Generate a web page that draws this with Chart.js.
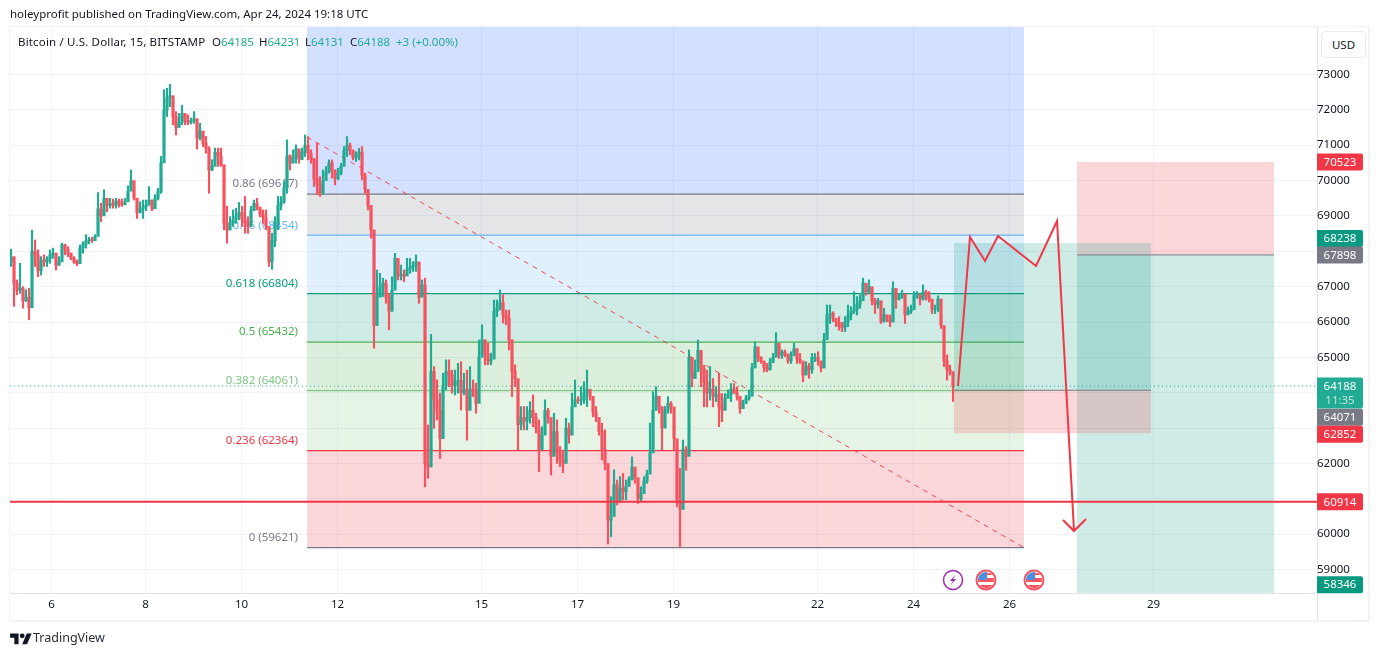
<!DOCTYPE html>
<html>
<head>
<meta charset="utf-8">
<title>Bitcoin / U.S. Dollar</title>
<script src="https://cdn.jsdelivr.net/npm/chart.js@4"></script>
<style>
    html, body { margin: 0; padding: 0; background: #fff; }
    body { width: 1379px; height: 656px; position: relative; overflow: hidden; font-family: "Noto Sans", sans-serif; color: #131722; }
    canvas { position: absolute; left: 0; top: 0; }
    .txt { position: absolute; white-space: nowrap; font-size: 11.5px; line-height: 16px; z-index: 2; }
    .up { color: #22ab94; }
    #frame { position: absolute; left: 9px; top: 26px; width: 1358px; height: 593px; border: 1px solid #f0f3fa; border-bottom-width: 2px; border-right-width: 2px; }
    #axisCorner { position: absolute; left: 1317px; top: 593px; width: 1px; height: 27px; background: #e0e3eb; z-index: 2; }
    #usd { position: absolute; left: 1321px; top: 31px; width: 43px; height: 25px; border: 1px solid #e8eaf1; border-radius: 4px; background: #fff; text-align: center; line-height: 25px; font-size: 11.5px; z-index: 2; }
    #logo { position: absolute; left: 10px; top: 631px; z-index: 2; }
    #brand { left: 33px; top: 630px; font-size: 12.5px; color: #2a2e39; }
</style>
</head>
<body>
<div id="frame"></div>
<canvas id="chart" width="1379" height="656"></canvas>
<div class="txt" style="left:10px;top:6px">holeyprofit published on TradingView.com, Apr 24, 2024 19:18 UTC</div>
<div class="txt" style="left:18px;top:34px;letter-spacing:0.17px">Bitcoin / U.S. Dollar, 15, BITSTAMP</div>
<div class="txt" style="left:212px;top:34px">O<span class="up">64185</span></div>
<div class="txt" style="left:259px;top:34px">H<span class="up">64231</span></div>
<div class="txt" style="left:305px;top:34px">L<span class="up">64131</span></div>
<div class="txt" style="left:350px;top:34px">C<span class="up">64188</span></div>
<div class="txt up" style="left:396px;top:34px">+3 (+0.00%)</div>
<div id="usd">USD</div>
<div id="axisCorner"></div>
<svg id="logo" width="22" height="17" viewBox="0 0 36 28"><path fill="#131722" d="M14 22H7V11H0V4h14v18zM28 22h-8l7.5-18h8L28 22z"/><circle fill="#131722" cx="20" cy="8" r="4"/></svg>
<div class="txt" id="brand">TradingView</div>
<script>
// --- CANDLES: one bar per 1.5h ---
const firstBarDay = 5.198;
const barStepDays = 0.0625;
const firstOpen = 67700;

const highs = [
    68060,67760,67190,67660,67000,66910,66950,68600,68320,68040,
    67850,67900,67850,68040,68090,67850,67850,68230,68200,68130,
    67950,67850,67760,68180,68270,68470,68400,68400,68470,69660,
    69360,69740,69500,69500,69480,69500,69480,69480,69500,69850,
    70300,69830,69500,69400,69450,69450,69830,69450,69600,69780,
    70680,72570,72610,72720,72280,71950,71900,72130,71860,71860,
    71770,71950,71620,71620,71310,71250,70960,70590,70920,70920,
    70920,70400,69270,68980,69170,69220,69380,69270,69550,68980,
    69270,69450,69500,69220,69170,69170,68610,68510,68980,69550,
    69550,69970,71150,70730,70870,71010,70730,70920,71290,
    71245,70870,70630,71060,70110,70300,70400,70585,70585,70300,
    70350,70490,70960,71245,71060,70870,70820,70910,70960,70210,
    69640,69170,68600,67470,67380,67240,67190,66810,67280,67940,
    67760,67610,67470,67800,67800,67710,67900,67570,67190,67240,
    63090,65650,64740,64360,63990,64550,64930,64930,64640,64640,
    64830,64880,64550,64640,64740,64360,64270,65490,65920,65400,
    65400,65120,66620,66620,66910,66770,66340,66340,65020,64790,
    64170,63610,63610,63610,63750,63940,63420,63230,63040,63800,
    63560,63230,63420,63230,62480,62380,63280,63140,63990,64360,
    63890,64170,64310,64640,64080,63650,63610,63180,63140,62950,
    61960,61060,61820,61530,61630,61720,61530,61630,62190,61810,
    61340,61340,61630,61810,63140,64030,64170,63890,63610,63610,
    63890,63750,63230,62380,61860,62660,62480,65210,64830,64930,
    65490,
    65070,64780,64640,64740,64400,64170,64550,63980,63980,64080,
    64260,64260,64170,63790,63790,63930,64080,64830,65440,65160,
    65020,64880,64830,64970,65110,65700,65300,65210,65210,65020,
    65160,65400,65110,65110,64830,64880,64830,65110,65110,65160,
    64880,65680,66480,66480,66290,66100,66150,65990,66150,66480,
    66430,66860,66720,66760,67240,67000,67190,66900,66670,66670,
    66340,66390,66200,66200,67140,66810,66810,66900,66620,66430,
    66480,66860,66860,66720,67050,66900,66860,66620,66480,66740,
    66290,65870,65070,64780,64260
];

const lows = [
    67570,66440,66770,66810,66390,66580,66060,66810,67570,67280,
    67330,67570,67570,67660,67800,67470,67620,67950,67900,67850,
    67760,67660,67590,67850,67950,68090,68210,68250,68300,68510,
    68840,69220,69120,69220,69220,69220,69250,69270,69310,69450,
    69740,69450,68930,69080,68930,69150,69360,69150,69310,69450,
    69640,71150,71810,72090,71580,71290,71530,71580,71580,71580,
    71600,71620,70890,71150,70960,70770,69640,70280,70490,70400,
    70400,68610,68230,68700,68700,68790,68890,68700,68510,68510,
    68980,69170,69170,68980,68790,68610,67570,67490,68130,68610,
    69170,69360,69640,70300,70490,70490,70490,70590,70680,
    70585,70490,69830,69600,69550,69600,70070,70210,70070,69880,
    70020,70160,70490,70680,70730,70585,70540,70585,70020,69640,
    69170,68370,65260,66060,66720,66720,66530,65780,66480,67190,
    67190,67190,67140,67380,67380,67430,67430,66530,66720,61340,
    61580,62140,62990,63230,62140,63420,64080,64170,63990,63940,
    63990,63510,63940,62660,63650,63890,63420,64740,65020,64790,
    64790,64790,65400,66150,66340,65970,65920,65210,63890,64170,
    62380,62950,62950,62950,63140,63040,62860,61770,62380,63040,
    63140,61670,62380,62000,61910,61740,62380,62570,63230,63650,
    63700,63650,63700,63610,63790,63320,63180,62800,62100,61820,
    59720,59930,60780,60830,61060,60970,60970,61440,61530,61440,
    60870,60920,61340,61440,62000,62380,63610,63420,62380,63320,
    63420,63420,62380,60780,59630,61910,61810,63610,64170,64450,
    64930,
    64170,63600,63600,63790,63600,63750,63040,63180,63600,63840,
    63750,63980,63790,63420,63560,63700,63790,63930,64740,64880,
    64830,64590,64590,64640,64880,65020,64970,64970,65020,64830,
    64830,65070,64830,64830,64310,64550,64410,64550,64880,64780,
    64590,64780,65580,65960,66010,65870,65770,65730,65730,65870,
    66060,66240,66200,66390,66720,66760,66810,66480,66240,66390,
    65960,66060,66010,65870,66060,66390,66620,66670,65960,66240,
    66240,66480,66670,66480,66620,66620,66570,66240,66240,66290,
    65820,64740,64360,64500,63750
];

const closes = [
    67850,67100,66900,66950,66600,66700,66400,68000,67900,67450,
    67750,67700,67800,67900,67950,67600,67700,68180,68050,67950,
    67800,67700,67650,68100,68200,68300,68330,68300,68420,69200,
    69000,69500,69300,69350,69300,69420,69350,69320,69400,69700,
    70000,69500,69100,69200,69250,69300,69450,69200,69500,69700,
    70500,72000,72350,72400,71800,71500,71650,71900,71700,71650,
    71700,71750,71200,71400,71050,70900,70300,70400,70800,70700,
    70450,68800,68600,68800,68900,69000,69100,68900,68800,68700,
    69150,69350,69250,69050,68950,68700,67700,68300,68800,69300,
    69400,69800,70700,70500,70650,70900,70600,70800,71000,
    70775,70600,70050,69900,69650,70000,70250,70500,70300,70050,
    70200,70400,70850,71000,70850,70650,70700,70800,70150,69750,
    69300,68600,65900,66700,67000,67100,66700,66300,66900,67800,
    67300,67350,67300,67500,67550,67600,67700,66700,67050,62000,
    61900,64600,63800,63500,62700,64200,64600,64500,64200,64300,
    64350,64000,64100,63500,64100,64050,63700,65000,65500,65100,
    64900,64950,66300,66400,66550,66200,66100,65500,64600,64400,
    63100,63300,63200,63300,63500,63300,63000,62400,62800,63500,
    63300,62200,62900,62300,62100,62000,63000,62800,63600,63800,
    63780,63800,64000,64100,63900,63450,63300,62900,62400,62000,
    60400,60500,61400,60900,61300,61200,61350,61550,61900,61600,
    61000,61150,61500,61700,62300,63500,63900,63600,63000,63500,
    63700,63600,62700,60900,60700,62400,62200,65000,64400,64600,
    65200,
    64700,64300,64000,64100,63900,63950,63600,63500,63850,63950,
    64100,64000,63900,63550,63700,63850,63900,64700,65300,65000,
    64900,64700,64650,64850,65000,65400,65050,65150,65100,64900,
    65050,65250,64950,64900,64500,64750,64650,65000,65000,64900,
    64700,65500,66200,66250,66100,66000,65900,65850,66000,66200,
    66300,66350,66500,66600,67100,66850,67000,66600,66500,66600,
    66000,66200,66100,66000,66950,66650,66700,66800,66200,66300,
    66350,66750,66780,66650,66850,66750,66650,66350,66350,66650,
    65900,64900,64650,64600,64188
];

// --- AXES ---
const priceMin = 58337;
const priceMax = 74343;
const dayMin = 5.177;
const dayMax = 32.406;
const priceTicks = [59000,60000,61000,62000,63000,64000,65000,66000,67000,68000,69000,70000,71000,72000,73000];
const hiddenPriceLabels = [61000,63000,64000,68000];
const dayTicks = [6.04,8,10,12,15,17,19,22,24,26,29];
const dayLabels = ["6","8","10","12","15","17","19","22","24","26","29"];

// --- FIB RETRACEMENT ---
const fibStartDay = 11.365;
const fibEndDay = 26.302;
const fibRatios = ["0.86","0.76","0.618","0.5","0.382","0.236","0"];
const fibPrices = [69617,68454,66804,65432,64061,62364,59621];
const fibColors = ["#787b86","#64b5f6","#089981","#4caf50","#81c784","#f23645","#787b86"];
const fibFills = ["rgba(41,98,255,0.2)","rgba(120,123,134,0.2)","rgba(100,181,246,0.2)","rgba(8,153,129,0.2)","rgba(76,175,80,0.2)","rgba(129,199,132,0.2)","rgba(242,54,69,0.2)"];

// --- DRAWINGS ---
const trendDays = [11.365,26.302];
const trendPrices = [71232,59621];
const supportPrice = 60914;
const lastPrice = 64188;
const pathDays = [24.927,25.177,25.49,25.76,26.552,26.99,27.344];
const pathPrices = [64191,68404,67726,68433,67584,68857,60090];
const arrowDays = [27.115,27.344,27.594];
const arrowPrices = [60401,60090,60429];

// long and short position boxes
const longDays = [24.844,28.948];
const longLevels = [68238,64071,62852];
const shortDays = [27.406,31.51];
const shortLevels = [70523,67898,58346];

// --- AXIS BADGES AND EVENT ICONS ---
const badgePrices = [70523,68238,67898,64188,64071,62852,60914,58346];
const badgeColors = ["#f23645","#089981","#787b86","#22ab94","#787b86","#f23645","#f23645","#089981"];
const badgeShifts = [0,-4.5,0,0,27,1,0,-8];
const countdownText = "11:35";
const powellDay = 24.823;
const flagDays = [25.51,26.51];

const UP = "#22ab94";
const DOWN = "#f7525f";
const FONT = '11.5px "Noto Sans", sans-serif';

const opens = closes.map((c, i) => i === 0 ? firstOpen : closes[i - 1]);
const barDays = closes.map((c, i) => firstBarDay + i * barStepDays);
const barColors = closes.map((c, i) => c >= opens[i] ? UP : DOWN);

// helpers for the flat drawing datasets
function hLine(days, price, color, width, order, dash) {
    return {
        type: 'line', order: order,
        data: days.map(d => ({ x: d, y: price })),
        borderColor: color, borderWidth: width, borderDash: dash || [],
        pointRadius: 0, tension: 0, fill: false
    };
}
function band(days, top, bottom, color, order) {
    return {
        type: 'line', order: order,
        data: days.map(d => ({ x: d, y: top })),
        borderColor: 'rgba(0,0,0,0)', borderWidth: 0, pointRadius: 0, tension: 0,
        fill: { target: { value: bottom }, above: color, below: color }
    };
}
function path(days, prices, color, width, order, dash) {
    return {
        type: 'line', order: order,
        data: days.map((d, i) => ({ x: d, y: prices[i] })),
        borderColor: color, borderWidth: width, borderDash: dash || [],
        pointRadius: 0, tension: 0, fill: false, borderJoinStyle: 'miter'
    };
}

const fibDays = [fibStartDay, fibEndDay];
const datasets = [];

// Fib zones and levels sit under the candles
datasets.push(band(fibDays, priceMax, fibPrices[0], fibFills[0], 50));
fibPrices.forEach((p, i) => {
    if (i > 0) datasets.push(band(fibDays, fibPrices[i - 1], p, fibFills[i], 50));
    datasets.push(hLine(fibDays, p, fibColors[i], 1.25, 40));
});

// Position boxes
datasets.push(band(longDays, longLevels[0], longLevels[1], "rgba(8,153,129,0.2)", 35));
datasets.push(band(longDays, longLevels[1], longLevels[2], "rgba(242,54,69,0.2)", 35));
datasets.push(hLine(longDays, longLevels[1], "#787b86", 1, 34));
datasets.push(band(shortDays, shortLevels[0], shortLevels[1], "rgba(242,54,69,0.2)", 35));
datasets.push(band(shortDays, shortLevels[1], shortLevels[2], "rgba(8,153,129,0.2)", 35));
datasets.push(hLine(shortDays, shortLevels[1], "#787b86", 1, 34));

datasets.push(path(trendDays, trendPrices, "rgba(242,54,69,0.9)", 1, 30, [5, 5]));

// Candles: wick then body
datasets.push({
    type: 'bar', order: 20, grouped: false, barThickness: 1.5,
    data: barDays.map((d, i) => ({ x: d, y: [lows[i], highs[i]] })),
    backgroundColor: barColors
});
datasets.push({
    type: 'bar', order: 19, grouped: false, barThickness: 2.5,
    data: barDays.map((d, i) => ({ x: d, y: [opens[i], closes[i]] })),
    backgroundColor: barColors
});

// On top of the candles
datasets.push(hLine([dayMin, dayMax], supportPrice, "#f23645", 2, 5));
datasets.push(hLine([dayMin, dayMax], lastPrice, "#22ab94", 1, 4, [1, 3]));
datasets.push(path(pathDays, pathPrices, "#f23645", 2, 3));
datasets.push(path(arrowDays, arrowPrices, "#f23645", 2, 3));

// Fib labels go under the candles, the rest goes on top
const overlayPlugin = {
    id: 'overlay',
    beforeDatasetsDraw(chart) {
        const { ctx, scales } = chart;
        const right = scales.x.getPixelForValue(fibStartDay) - 9;
        ctx.save();
        ctx.font = FONT;
        ctx.textAlign = 'right';
        ctx.textBaseline = 'middle';
        fibPrices.forEach((p, i) => {
            ctx.fillStyle = fibColors[i];
            ctx.fillText(`${fibRatios[i]} (${p})`, right, scales.y.getPixelForValue(p) - 10);
        });
        ctx.restore();
    },
    afterDatasetsDraw(chart) {
        const { ctx, scales, chartArea } = chart;
        const cy = chartArea.bottom - 13;
        ctx.save();

        // earnings style bolt icon
        const bx = scales.x.getPixelForValue(powellDay);
        ctx.beginPath();
        ctx.arc(bx, cy, 9.5, 0, Math.PI * 2);
        ctx.fillStyle = '#fff';
        ctx.fill();
        ctx.lineWidth = 1.5;
        ctx.strokeStyle = '#9c27b0';
        ctx.stroke();
        ctx.beginPath();
        ctx.moveTo(bx + 3, cy - 6); ctx.lineTo(bx - 3, cy + 1); ctx.lineTo(bx, cy + 1);
        ctx.lineTo(bx - 3, cy + 6); ctx.lineTo(bx + 3, cy - 1); ctx.lineTo(bx, cy - 1);
        ctx.closePath();
        ctx.fillStyle = '#9c27b0';
        ctx.fill();

        // US flag icons
        flagDays.forEach(d => {
            const fx = scales.x.getPixelForValue(d);
            ctx.save();
            ctx.beginPath();
            ctx.arc(fx, cy, 10, 0, Math.PI * 2);
            ctx.fillStyle = '#fff';
            ctx.fill();
            ctx.beginPath();
            ctx.arc(fx, cy, 8, 0, Math.PI * 2);
            ctx.clip();
            ctx.fillStyle = '#fff';
            ctx.fillRect(fx - 8, cy - 8, 16, 16);
            ctx.fillStyle = '#f7525f';
            ctx.fillRect(fx - 8, cy - 2, 16, 4);
            ctx.fillRect(fx - 8, cy + 5, 16, 4);
            ctx.fillRect(fx, cy - 7, 8, 2);
            ctx.fillStyle = '#4a90e2';
            ctx.fillRect(fx - 8, cy - 8, 9, 8);
            ctx.restore();
            ctx.beginPath();
            ctx.arc(fx, cy, 9.5, 0, Math.PI * 2);
            ctx.lineWidth = 2;
            ctx.strokeStyle = '#f7525f';
            ctx.stroke();
        });
        ctx.restore();
    },
    afterDraw(chart) {
        const { ctx, scales, chartArea } = chart;
        const x0 = chartArea.right;
        const w = 46;
        ctx.save();
        ctx.font = FONT;
        ctx.textAlign = 'center';
        ctx.textBaseline = 'middle';
        badgePrices.forEach((p, i) => {
            const cy = scales.y.getPixelForValue(p) + badgeShifts[i];
            const isLast = p === lastPrice;
            const top = cy - 8.5;
            const h = isLast ? 31 : 17;
            ctx.fillStyle = badgeColors[i];
            ctx.beginPath();
            ctx.roundRect(x0, top, w, h, [0, 2, 2, 0]);
            ctx.fill();
            ctx.fillStyle = '#fff';
            ctx.fillText(String(p), x0 + w / 2, cy + 0.5);
            if (isLast) {
                ctx.fillStyle = 'rgba(255,255,255,0.7)';
                ctx.fillText(countdownText, x0 + w / 2, cy + 15);
            }
        });
        ctx.restore();
    }
};

new Chart(document.getElementById('chart').getContext('2d'), {
    data: { datasets: datasets },
    plugins: [overlayPlugin],
    options: {
        responsive: false,
        animation: false,
        events: [],
        layout: { padding: { left: 10, top: 27, right: 12, bottom: 36 } },
        plugins: { legend: { display: false }, tooltip: { enabled: false } },
        scales: {
            x: {
                type: 'linear', min: dayMin, max: dayMax, offset: false,
                grid: { color: '#f0f3fa', drawTicks: false, offset: false },
                border: { color: '#e0e3eb' },
                afterBuildTicks(scale) { scale.ticks = dayTicks.map(v => ({ value: v })); },
                afterFit(scale) { scale.height = 27; },
                ticks: {
                    autoSkip: false, maxRotation: 0, padding: 5, color: '#131722',
                    font: { family: '"Noto Sans", sans-serif', size: 11.5 },
                    callback: value => dayLabels[dayTicks.indexOf(value)]
                }
            },
            y: {
                type: 'linear', position: 'right', min: priceMin, max: priceMax,
                grid: { color: '#f0f3fa', drawTicks: false },
                border: { color: '#e0e3eb' },
                afterBuildTicks(scale) { scale.ticks = priceTicks.map(v => ({ value: v })); },
                afterFit(scale) { scale.width = 50; },
                ticks: {
                    autoSkip: false, crossAlign: 'center', padding: 0, color: '#131722',
                    font: { family: '"Noto Sans", sans-serif', size: 11.5 },
                    callback: value => hiddenPriceLabels.includes(value) ? '' : String(value)
                }
            }
        }
    }
});
</script>
</body>
</html>
